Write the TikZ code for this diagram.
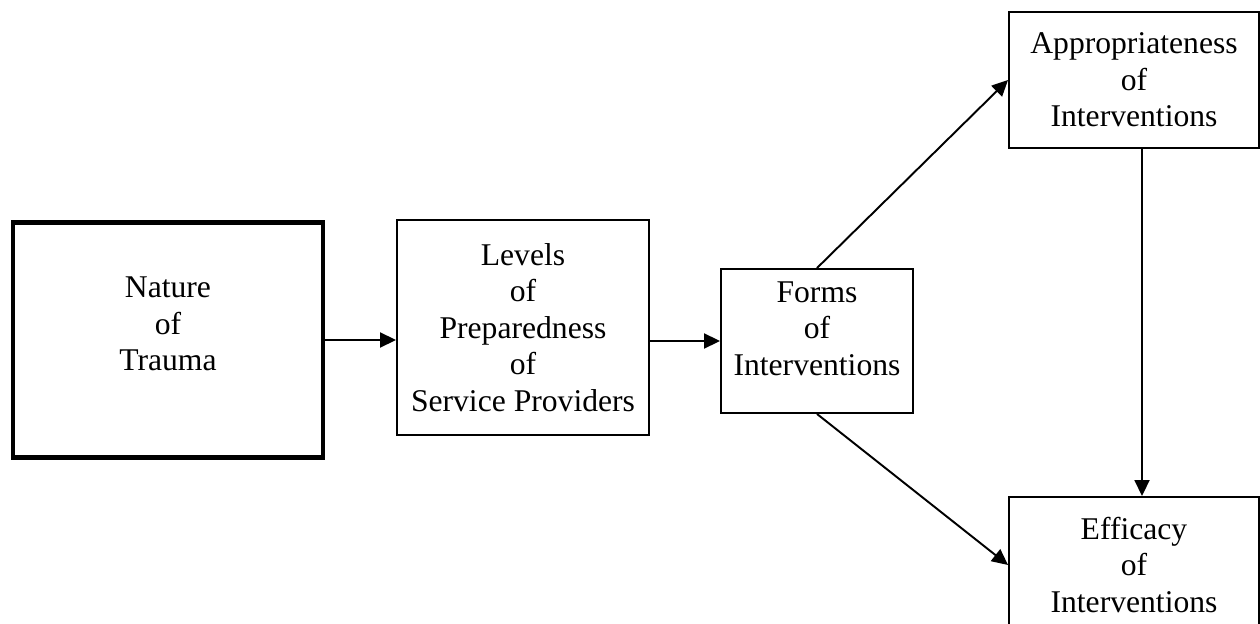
\documentclass[tikz,border=0pt]{standalone}
\usepackage{fontspec}
\setmainfont{Liberation Serif}
\usetikzlibrary{arrows.meta}
\tikzset{
  box/.style={draw, line width=1.1pt, align=center, inner sep=0pt,
    font=\fontsize{18}{20.7}\selectfont},
  thickbox/.style={box, line width=2.3pt},
  arr/.style={line width=1.1pt, -{Triangle[length=0.32cm,width=0.3cm]}}
}
\begin{document}
\begin{tikzpicture}
  \useasboundingbox (0,0) rectangle (25.2,-12.48);
  % Riquadri
  \node[thickbox, minimum width=6.2cm, minimum height=4.7cm, text depth=0.65cm]
    (nat) at (3.36,-6.8) {Nature\\of\\Trauma};
  \node[box, minimum width=5.04cm, minimum height=4.3cm]
    (lev) at (10.46,-6.55) {Levels\\of\\Preparedness\\of\\Service Providers};
  \node[box, minimum width=3.84cm, minimum height=2.88cm, text depth=0.5cm]
    (frm) at (16.34,-6.82) {Forms\\of\\Interventions};
  \node[box, minimum width=5.0cm, minimum height=2.72cm]
    (app) at (22.68,-1.6) {Appropriateness\\of\\Interventions};
  \node[box, minimum width=5.0cm, minimum height=2.72cm]
    (eff) at (22.68,-11.3) {Efficacy\\of\\Interventions};
  \coordinate (vx) at (22.84,0);

  % Frecce
  \draw[arr] (nat.east) -- (nat.east -| lev.west);
  \draw[arr] (frm.west -| lev.east) -- (frm.west);
  \draw[arr] (frm.north) -- (app.west);
  \draw[arr] (frm.south) -- (eff.west);
  \draw[arr] (app.south -| vx) -- (eff.north -| vx);
\end{tikzpicture}
\end{document}
